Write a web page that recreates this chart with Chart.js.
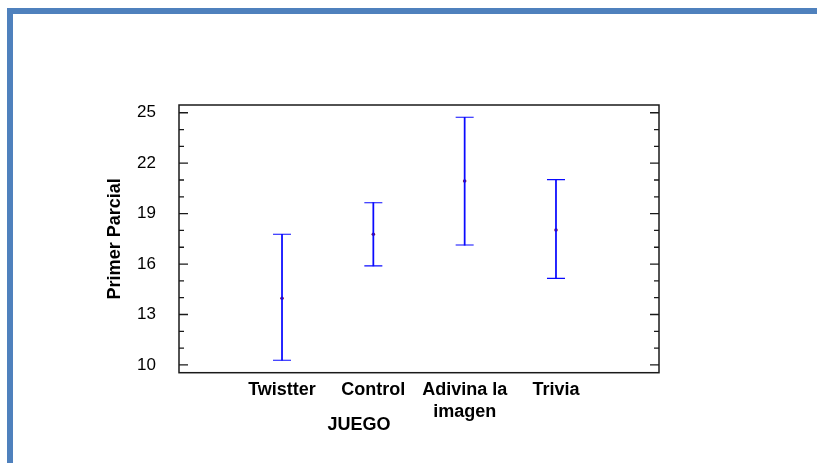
<!DOCTYPE html>
<html><head><meta charset="utf-8">
<script src="https://cdn.jsdelivr.net/npm/chart.js@4"></script>
<style>html,body{margin:0;padding:0;background:#fff;}canvas{display:block;}</style>
</head><body>
<canvas id="c" width="817" height="463"></canvas>
<script>
// ---- data ----
const categories = ['Twistter', 'Control', ['Adivina la', 'imagen'], 'Trivia'];
const means = [13.97, 17.77, 20.94, 18.03];
const upper = [17.77, 19.65, 24.73, 21.02];
const lower = [10.28, 15.89, 17.13, 15.15];
const yTickValues = [10, 11, 12, 13, 14, 15, 16, 17, 18, 19, 20, 21, 22, 23, 24, 25];
const yTickLabels = [10, 13, 16, 19, 22, 25];
const xTitle = 'JUEGO';
const yTitle = 'Primer Parcial';

const BLUE = '#0a0aff';
const FONT = "'Liberation Sans', Arial, sans-serif";

const xPos = categories.map((c, i) => i + 1);

const framePlugin = {
  id: 'frame',
  beforeDraw(chart) {
    const ctx = chart.ctx;
    ctx.save();
    ctx.fillStyle = '#ffffff';
    ctx.fillRect(0, 0, chart.width, chart.height);
    ctx.fillStyle = '#4f81bd';
    ctx.fillRect(7, 8, chart.width - 7, 6);
    ctx.fillRect(7, 8, 6, chart.height - 8);
    ctx.restore();
  },
  afterDraw(chart) {
    const ctx = chart.ctx;
    const a = chart.chartArea;
    const ys = chart.scales.y;
    ctx.save();
    ctx.strokeStyle = '#1a1a1a';
    ctx.lineWidth = 1.5;
    ctx.strokeRect(a.left, a.top, a.right - a.left, a.bottom - a.top);
    ctx.lineWidth = 1.3;
    ctx.beginPath();
    ys.ticks.forEach(t => {
      const y = ys.getPixelForValue(t.value);
      const len = yTickLabels.includes(t.value) ? 9 : 5;
      ctx.moveTo(a.left, y); ctx.lineTo(a.left + len, y);
      ctx.moveTo(a.right, y); ctx.lineTo(a.right - len, y);
    });
    ctx.stroke();
    // x-axis title
    ctx.fillStyle = '#000';
    ctx.font = 'bold 18px ' + FONT;
    ctx.textAlign = 'center';
    ctx.textBaseline = 'middle';
    ctx.fillText(xTitle, a.left + 180, a.bottom + 52);
    ctx.restore();
  }
};

new Chart(document.getElementById('c'), {
  data: {
    datasets: [
      {
        type: 'bar',
        data: xPos.map((x, i) => ({ x: x, y: [lower[i], upper[i]] })),
        backgroundColor: BLUE,
        borderWidth: 0,
        barThickness: 1.1,
        grouped: false
      },
      {
        type: 'scatter',
        data: xPos.map((x, i) => ({ x: x, y: upper[i] })).concat(xPos.map((x, i) => ({ x: x, y: lower[i] }))),
        pointStyle: 'line',
        radius: 9,
        borderColor: BLUE,
        borderWidth: 1.1
      },
      {
        type: 'scatter',
        data: xPos.map((x, i) => ({ x: x, y: means[i] })),
        pointStyle: 'circle',
        radius: 1.8,
        backgroundColor: '#7a1248',
        borderWidth: 0
      }
    ]
  },
  options: {
    responsive: false,
    animation: false,
    layout: { padding: { top: 105, right: 158, bottom: 0, left: 0 } },
    plugins: { legend: { display: false }, tooltip: { enabled: false } },
    scales: {
      x: {
        type: 'linear',
        offset: false,
        min: -0.128,
        max: 5.128,
        grid: { display: false, drawTicks: false, offset: false },
        border: { display: false },
        afterBuildTicks: (s) => { s.ticks = xPos.map(v => ({ value: v })); },
        afterFit: (s) => { s.height = 90.3; },
        ticks: {
          autoSkip: false,
          maxRotation: 0,
          padding: 7,
          color: '#000',
          font: { family: FONT, size: 18, weight: 'bold', lineHeight: 1.2 },
          callback: (v) => categories[xPos.indexOf(v)]
        }
      },
      y: {
        type: 'linear',
        min: 9.54,
        max: 25.46,
        grid: { display: false, drawTicks: false },
        border: { display: false },
        afterBuildTicks: (s) => { s.ticks = yTickValues.map(v => ({ value: v })); },
        afterFit: (s) => { s.width = 179; },
        ticks: {
          autoSkip: false,
          padding: 23,
          color: '#000',
          font: { family: FONT, size: 17 },
          callback: (v) => yTickLabels.includes(v) ? String(v) : ''
        },
        title: {
          display: true,
          text: yTitle,
          color: '#000',
          font: { family: FONT, size: 18, weight: 'bold', lineHeight: 1.2 },
          padding: { top: 104.2, bottom: 0 }
        }
      }
    }
  },
  plugins: [framePlugin]
});
</script>
</body></html>
